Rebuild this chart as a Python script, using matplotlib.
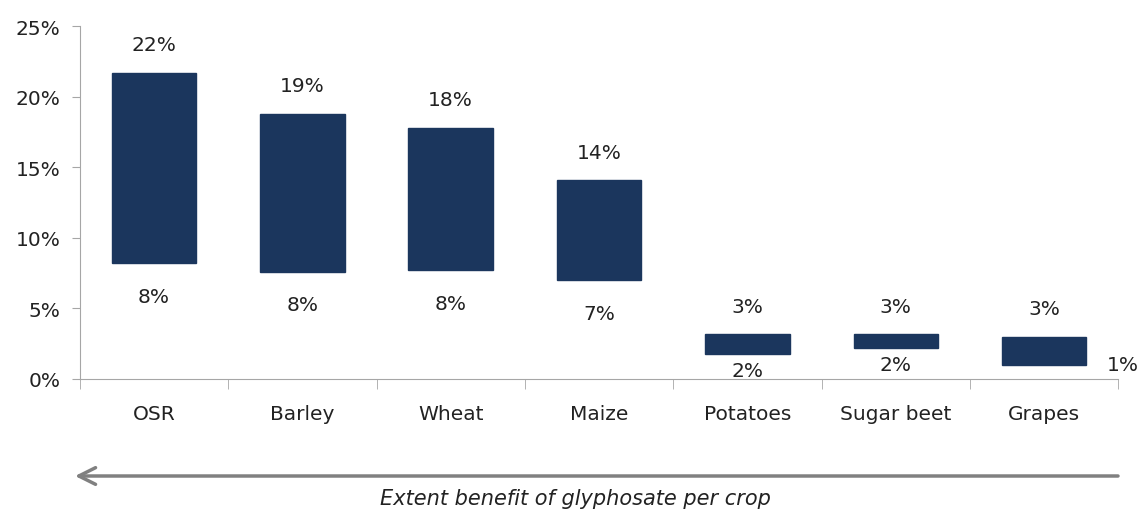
import matplotlib
matplotlib.use("Agg")
import matplotlib.pyplot as plt
import numpy as np

crops = ["OSR", "Barley", "Wheat", "Maize", "Potatoes", "Sugar beet", "Grapes"]
low = [8.2, 7.6, 7.7, 7.0, 1.8, 2.2, 1.0]
high = [21.7, 18.8, 17.8, 14.1, 3.15, 3.15, 3.0]
low_labels = ["8%", "8%", "8%", "7%", "2%", "2%", "1%"]
high_labels = ["22%", "19%", "18%", "14%", "3%", "3%", "3%"]
yticks = [0, 5, 10, 15, 20, 25]
caption = "Extent benefit of glyphosate per crop"

plt.rcParams['font.family'] = ['DejaVu Sans']

FS = 14.5
fig = plt.figure(figsize=(11.4, 5.1), dpi=100)
ax = fig.add_axes([0.070, 0.255, 0.911, 0.692])

x = np.arange(len(crops))
heights = [h - l for h, l in zip(high, low)]
ax.bar(x, heights, bottom=low, width=0.57, color="#1b365d", edgecolor="#1b365d")

grey = "#a6a6a6"
txt = "#222222"
ax.set_xlim(-0.5, len(crops) - 0.5)
ax.set_ylim(0, 25)
ax.set_yticks(yticks)
ax.set_yticklabels([f"{t}%" for t in yticks], fontsize=FS, color=txt)
ax.set_xticks(x)
ax.set_xticklabels(crops, fontsize=FS, color=txt)
ax.set_xticks(np.arange(len(crops) + 1) - 0.5, minor=True)
ax.tick_params(axis="x", which="major", length=0, pad=18)
ax.tick_params(axis="x", which="minor", length=7, color=grey, direction="out")
ax.tick_params(axis="y", length=6, color=grey, pad=8)
for s in ["top", "right"]:
    ax.spines[s].set_visible(False)
ax.spines["left"].set_color(grey)
ax.spines["bottom"].set_color(grey)

for i in range(len(crops)):
    ax.annotate(high_labels[i], (x[i], high[i]), xytext=(0, 20), textcoords="offset points",
                ha="center", va="center", fontsize=FS, color=txt)
    if i == len(crops) - 1:
        ax.annotate(low_labels[i], (x[i] + 0.5, low[i]), xytext=(3, 0), textcoords="offset points",
                    ha="center", va="center", fontsize=FS, color=txt, annotation_clip=False)
    else:
        off = (0, -24) if heights[i] > 4 else (0, -12)
        ax.annotate(low_labels[i], (x[i], low[i]), xytext=off, textcoords="offset points",
                    ha="center", va="center", fontsize=FS, color=txt)

fig.patches.append(matplotlib.patches.FancyArrowPatch(
    (1118 / 1140, 1 - 477 / 510), (75 / 1140, 1 - 477 / 510), transform=fig.transFigure,
    arrowstyle="->,head_length=12,head_width=6", color="#808080", lw=2.5,
    mutation_scale=1, shrinkA=0, shrinkB=0))
fig.text(575 / 1140, 1 - 499 / 510, caption, ha="center", va="center",
         fontsize=15, style="italic", color=txt)

fig.savefig("out.png", dpi=100)
